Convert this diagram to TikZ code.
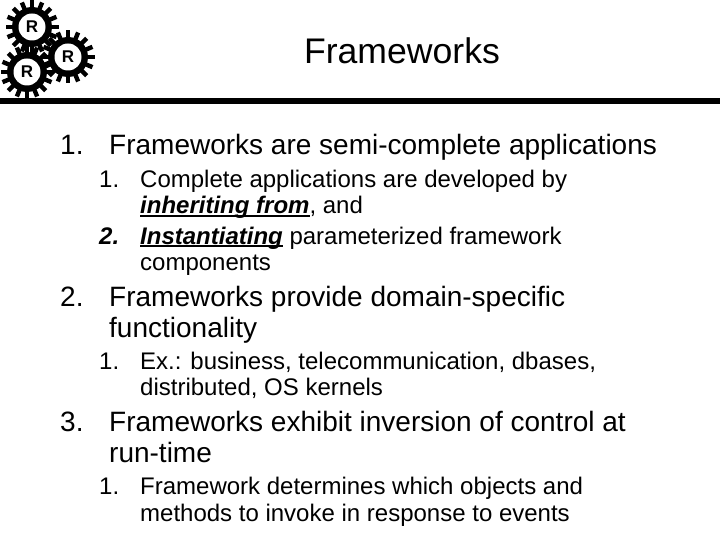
\documentclass[tikz,border=0pt]{standalone}
\usepackage{fontspec}
\setmainfont{Liberation Sans}
\newlength{\ulwidth}
\newcommand{\ul}[1]{\settowidth{\ulwidth}{\textbf{\textit{#1}}}\rlap{\rule[-2.6pt]{\ulwidth}{1.7pt}}\textbf{\textit{#1}}}
\tikzset{
  toptext/.style={anchor=base west,inner sep=0pt,font=\fontsize{28}{28}\selectfont},
  subtext/.style={anchor=base west,inner sep=0pt,font=\fontsize{24}{24}\selectfont},
  geartext/.style={inner sep=0pt,font=\fontsize{17}{17}\selectfont\bfseries},
}
\begin{document}
\begin{tikzpicture}[x=1pt,y=-1pt]
      \useasboundingbox (0,0) rectangle (720,540);
      % gears
      \foreach \cx/\cy/\nm in {32/27/a,68/57/b,27/72/c}{
        \coordinate (gear\nm) at (\cx,\cy);
        \fill[black] (gear\nm) circle (20);
        \foreach \t in {0,22.5,...,337.5}
          \draw[line width=4.4pt,black] (gear\nm) -- ++(\t:26.5);
      }
      \foreach \nm in {a,b,c}
        \fill[white] (gear\nm) circle (13.5);
      \node[geartext] (ra) at (geara) {R};
      \node[geartext] (rb) at (gearb) {R};
      \node[geartext] (rc) at (gearc) {R};
      % rule and title
      \fill[black] (0,98.5) rectangle (720,104.5);
      \node[anchor=base,inner sep=0pt,font=\fontsize{35.6}{36}\selectfont] (title) at (402,64) {Frameworks};
      % first item
      \node[toptext] (n1) at (60,155) {1.};
      \node[toptext] (l1) at (109,155) {Frameworks are semi-complete applications};
      \node[subtext] (n11) at (99,188) {1.};
      \node[subtext] (l11) at (140,188) {Complete applications are developed by};
      \node[subtext] (l12) at (140,214) {\ul{inheriting from}, and};
      \node[subtext] (n12) at (99,244) {\textbf{\textit{2.}}};
      \node[subtext] (l13) at (140,244) {\ul{Instantiating} parameterized framework};
      \node[subtext] (l14) at (140,270) {components};
      % second item
      \node[toptext] (n2) at (60,306) {2.};
      \node[toptext] (l2) at (109,306) {Frameworks provide domain-specific};
      \node[toptext] (l3) at (109,337) {functionality};
      \node[subtext] (n21) at (99,369) {1.};
      \node[subtext] (l21) at (140,369) {Ex.: business, telecommunication, dbases,};
      \node[subtext] (l22) at (140,395) {distributed, OS kernels};
      % third item
      \node[toptext] (n3) at (60,431) {3.};
      \node[toptext] (l4) at (109,431) {Frameworks exhibit inversion of control at};
      \node[toptext] (l5) at (109,462) {run-time};
      \node[subtext] (n31) at (99,494) {1.};
      \node[subtext] (l31) at (140,494) {Framework determines which objects and};
      \node[subtext] (l32) at (140,521) {methods to invoke in response to events};
\end{tikzpicture}
\end{document}
